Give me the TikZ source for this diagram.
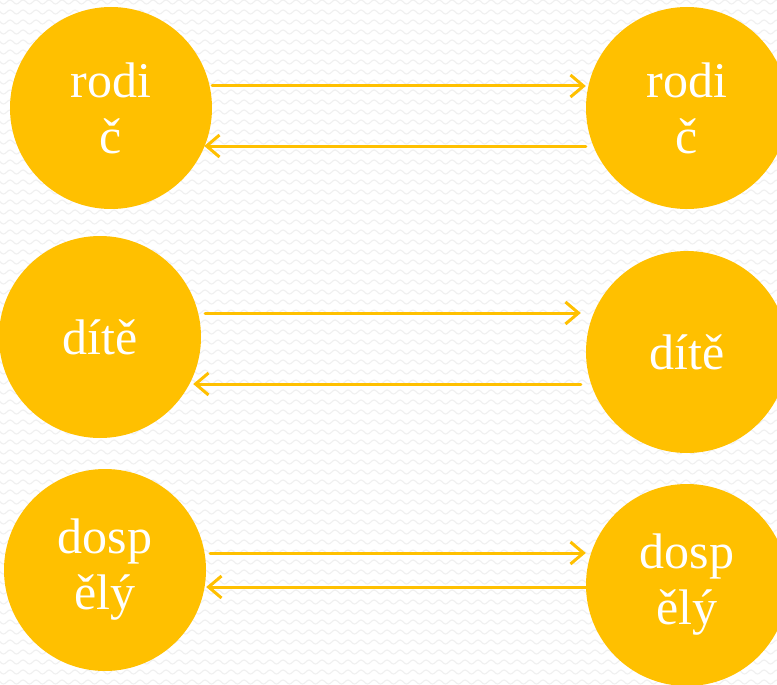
\documentclass[tikz,border=0pt]{standalone}
\usepackage{fontspec}
\setmainfont{Liberation Serif}
\usetikzlibrary{arrows.meta, decorations.pathmorphing}

\definecolor{zlata}{HTML}{FFC000}
\definecolor{vlnka}{HTML}{F0F0F0}

\tikzset{
  kruh/.style={circle, fill=zlata, minimum size=202pt, inner sep=0pt,
    text=white, align=center, font=\fontsize{50}{56}\selectfont},
  sipka/.style={draw=zlata, line width=3pt,
    -{Straight Barb[length=13pt,width=22pt]}},
  vlna/.style={vlnka, line width=1.1pt, decorate,
    decoration={snake, segment length=13pt, amplitude=2pt}}
}

\begin{document}
\begin{tikzpicture}[line cap=round,line join=round,x=1pt,y=-1pt]
\clip (0,0) rectangle (777,685);
\fill[white] (0,0) rectangle (777,685);

% pozadi
\foreach \r in {2,12,...,692}
  \draw[vlna] (-20,\r) -- (800,\r);

\node[kruh] (rodicL) at (111,108) {rodi\\č};
\node[kruh] (rodicR) at (687,108) {rodi\\č};

\node[kruh] (diteL) at (100,337) {dítě};
\node[kruh] (diteR) at (687,352) {dítě};

\node[kruh] (dospL) at (105,570) {dosp\\ělý};
\node[kruh] (dospR) at (687,585) {dosp\\ělý};

\draw[sipka] ([yshift=22pt]rodicL.east) -- ([yshift=22pt]rodicR.west);
\draw[sipka] ([yshift=-38pt]rodicR.west) -- ([xshift=-8pt,yshift=-38pt]rodicL.east);

\draw[sipka] ([xshift=4pt,yshift=24pt]diteL.east) -- ([xshift=-5pt,yshift=39pt]diteR.west);
\draw[sipka] ([xshift=-5pt,yshift=-32pt]diteR.west) -- ([xshift=-8pt,yshift=-47pt]diteL.east);

\draw[sipka] ([xshift=4pt,yshift=17pt]dospL.east) -- ([yshift=32pt]dospR.west);
\draw[sipka] ([yshift=-2pt]dospR.west) -- ([yshift=-17pt]dospL.east);

\end{tikzpicture}
\end{document}
